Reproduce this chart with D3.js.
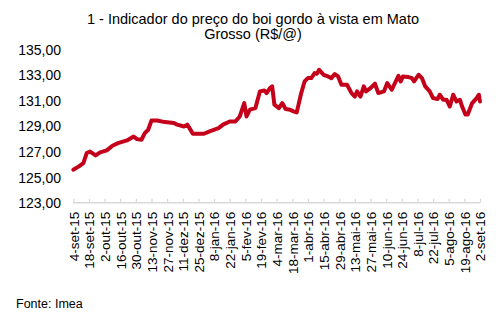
<!DOCTYPE html>
<html><head><meta charset="utf-8">
<script src="https://cdn.jsdelivr.net/npm/d3@7"></script>
<style>body{margin:0;background:#fff}svg{display:block}text{font-family:"Liberation Sans",Arial,sans-serif;fill:#000}</style>
</head><body><svg id="c" width="504" height="330"></svg>
<script>
const titleLines = ["1 - Indicador do preço do boi gordo à vista em Mato", "Grosso (R$/@)"];
const source = "Fonte: Imea";
const dates = ["2015-09-04","2015-09-09","2015-09-13","2015-09-16","2015-09-19","2015-09-24","2015-09-28","2015-10-04","2015-10-09","2015-10-14","2015-10-22","2015-10-28","2015-10-31","2015-11-04","2015-11-07","2015-11-10","2015-11-13","2015-11-18","2015-11-25","2015-12-03","2015-12-06","2015-12-12","2015-12-15","2015-12-17","2015-12-20","2015-12-30","2016-01-04","2016-01-12","2016-01-16","2016-01-22","2016-01-27","2016-01-31","2016-02-04","2016-02-06","2016-02-09","2016-02-14","2016-02-18","2016-02-22","2016-02-24","2016-02-27","2016-02-29","2016-03-02","2016-03-06","2016-03-09","2016-03-12","2016-03-16","2016-03-19","2016-03-22","2016-03-26","2016-03-29","2016-04-01","2016-04-04","2016-04-07","2016-04-09","2016-04-11","2016-04-15","2016-04-19","2016-04-22","2016-04-25","2016-04-28","2016-05-01","2016-05-06","2016-05-10","2016-05-13","2016-05-15","2016-05-18","2016-05-21","2016-05-23","2016-05-27","2016-05-31","2016-06-03","2016-06-08","2016-06-11","2016-06-15","2016-06-21","2016-06-23","2016-06-25","2016-06-30","2016-07-03","2016-07-05","2016-07-09","2016-07-12","2016-07-15","2016-07-19","2016-07-22","2016-07-26","2016-07-28","2016-07-31","2016-08-03","2016-08-06","2016-08-09","2016-08-12","2016-08-15","2016-08-17","2016-08-20","2016-08-22","2016-08-26","2016-08-30","2016-09-01","2016-09-02"];
const prices = [125.58,125.84,126.10,126.88,127.00,126.70,126.93,127.09,127.45,127.66,127.87,128.18,127.97,127.92,128.44,128.70,129.43,129.43,129.30,129.23,129.10,128.96,129.10,128.83,128.39,128.39,128.57,128.83,129.10,129.35,129.35,129.74,130.79,129.74,130.27,130.40,131.70,131.77,131.57,131.96,132.09,130.66,130.40,130.79,130.32,130.27,130.14,130.06,131.57,132.48,132.74,132.74,133.13,133.08,133.39,133.00,132.87,132.74,133.05,132.87,132.22,132.22,131.57,131.30,131.70,131.30,132.09,131.70,131.96,132.30,131.57,131.70,132.35,131.83,132.92,132.48,132.87,132.82,132.74,132.48,133.00,132.74,132.09,131.70,131.18,131.10,131.44,131.05,131.05,130.52,131.44,130.91,131.05,130.52,129.90,129.90,130.79,131.18,131.44,130.91];
const tickDates = ["2015-09-04","2015-09-18","2015-10-02","2015-10-16","2015-10-30","2015-11-13","2015-11-27","2015-12-11","2015-12-25","2016-01-08","2016-01-22","2016-02-05","2016-02-19","2016-03-04","2016-03-18","2016-04-01","2016-04-15","2016-04-29","2016-05-13","2016-05-27","2016-06-10","2016-06-24","2016-07-08","2016-07-22","2016-08-05","2016-08-19","2016-09-02"];
const tickLabels = ["4-set-15","18-set-15","2-out-15","16-out-15","30-out-15","13-nov-15","27-nov-15","11-dez-15","25-dez-15","8-jan-16","22-jan-16","5-fev-16","19-fev-16","4-mar-16","18-mar-16","1-abr-16","15-abr-16","29-abr-16","13-mai-16","27-mai-16","10-jun-16","24-jun-16","8-jul-16","22-jul-16","5-ago-16","19-ago-16","2-set-16"];
const yTicks = [123,125,127,129,131,133,135];

const parse = d3.utcParse("%Y-%m-%d");
const data = dates.map((d,i)=>({date:parse(d), v:prices[i]}));
const svg = d3.select("#c");
const x = d3.scaleUtc().domain([parse(tickDates[0]), parse(tickDates[tickDates.length-1])]).range([73.3, 480]);
const y = d3.scaleLinear().domain([123,135]).range([202.7, 49.2]);

svg.append("g").selectAll("text").data(titleLines).join("text")
  .attr("x",253).attr("y",(d,i)=>24+i*14.5).attr("text-anchor","middle")
  .style("font-size","14.5px").text(d=>d);

// y labels
const yAxis = d3.axisLeft(y).tickValues(yTicks).tickSize(0).tickPadding(0)
  .tickFormat(d=>d3.format(".2f")(d).replace(".",","));
const gy = svg.append("g").attr("transform","translate(61,0)").call(yAxis);
gy.select(".domain").remove();
gy.selectAll("text").style("font-size","14px").attr("font-family",null).attr("dy","0.36em");

// x axis
const xAxis = d3.axisBottom(x).tickValues(tickDates.map(parse)).tickSize(-4)
  .tickFormat((d,i)=>tickLabels[i]);
const gx = svg.append("g").attr("transform","translate(0,202.7)").call(xAxis);
gx.select(".domain").attr("stroke","#d9d9d9").attr("stroke-width",1.5).attr("d","M73.3,0H480");
gx.selectAll(".tick line").attr("stroke","#d9d9d9").attr("stroke-width",1.2);
gx.selectAll(".tick text").attr("font-family",null).style("font-size","13.5px")
  .attr("text-anchor","end").attr("transform","rotate(-90)").attr("x",-9).attr("y",0).attr("dy","0.36em");

svg.append("path").datum(data)
  .attr("fill","none").attr("stroke","#c4001a").attr("stroke-width",4)
  .attr("stroke-linejoin","round").attr("stroke-linecap","round")
  .attr("d", d3.line().x(d=>x(d.date)).y(d=>y(d.v)));

svg.append("text").attr("x",16).attr("y",308).style("font-size","12.5px").text(source);
</script></body></html>
